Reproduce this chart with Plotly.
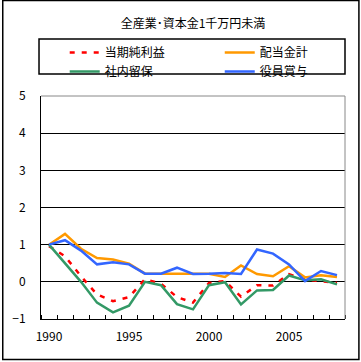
import plotly.graph_objects as go

years = list(range(1990, 2009))
net_income = [0.96, 0.69, 0.15, -0.34, -0.52, -0.41, 0.07, -0.05, -0.41, -0.56, -0.03, 0.02, -0.40, -0.09, -0.10, 0.21, 0.06, 0.02, -0.03]
dividends = [1.00, 1.29, 0.89, 0.64, 0.60, 0.49, 0.22, 0.22, 0.23, 0.22, 0.22, 0.13, 0.44, 0.21, 0.15, 0.42, 0.12, 0.18, 0.13]
retained = [1.00, 0.50, 0.00, -0.56, -0.82, -0.64, 0.00, -0.09, -0.60, -0.74, -0.09, -0.01, -0.61, -0.23, -0.22, 0.17, 0.04, 0.07, -0.07]
bonuses = [1.00, 1.12, 0.84, 0.47, 0.53, 0.47, 0.22, 0.22, 0.38, 0.21, 0.22, 0.24, 0.21, 0.87, 0.76, 0.47, 0.02, 0.29, 0.18]

names = ["当期純利益", "配当金計", "社内留保", "役員賞与"]
title = "全産業･資本金1千万円未満"
x_ticks = [1990, 1995, 2000, 2005]
y_ticks = [-1, 0, 1, 2, 3, 4, 5]

FONT = "Noto Sans CJK JP"
fig = go.Figure()
fig.add_trace(go.Scatter(x=years, y=net_income, name=names[0], mode="lines", legend="legend",
                         line=dict(color="#FF0000", width=2.5, dash="5px,7px")))
fig.add_trace(go.Scatter(x=years, y=dividends, name=names[1], mode="lines", legend="legend2",
                         line=dict(color="#FF9900", width=2.5)))
fig.add_trace(go.Scatter(x=years, y=retained, name=names[2], mode="lines", legend="legend",
                         line=dict(color="#339966", width=2.5)))
fig.add_trace(go.Scatter(x=years, y=bonuses, name=names[3], mode="lines", legend="legend2",
                         line=dict(color="#3366FF", width=2.5)))

leg_common = dict(orientation="v", yanchor="top", y=1.26, xanchor="left",
                  bgcolor="rgba(0,0,0,0)", borderwidth=0,
                  font=dict(size=12, family=FONT), tracegroupgap=0)

fig.update_layout(
    width=361, height=362,
    margin=dict(l=39, r=16, t=96, b=43),
    paper_bgcolor="white", plot_bgcolor="white",
    font=dict(family=FONT, size=12, color="black"),
    title=dict(text=title, x=0.5, xref="paper", xanchor="center",
               y=1 - 24 / 362, yref="container", yanchor="middle",
               font=dict(size=12, family=FONT)),
    showlegend=True,
    legend=dict(x=0.078, **leg_common),
    legend2=dict(x=0.588, **leg_common),
    xaxis=dict(range=[1989.5, 2008.5], tickmode="array", tickvals=x_ticks,
               ticks="", showgrid=False, zeroline=False,
               showline=True, linecolor="black", linewidth=1,
               ticklabelstandoff=7,
               tickfont=dict(size=12, family=FONT),
               minor=dict(ticks="inside", ticklen=4, tickcolor="black",
                          tick0=1989.5, dtick=1, showgrid=False)),
    yaxis=dict(range=[-1, 5], tickmode="array", tickvals=y_ticks,
               ticktext=["−1" if v == -1 else str(v) for v in y_ticks],
               showgrid=True, gridcolor="black", gridwidth=1,
               zeroline=True, zerolinecolor="black", zerolinewidth=1,
               showline=True, linecolor="black", linewidth=1,
               ticks="", ticklabelstandoff=12,
               tickfont=dict(size=12, family=FONT)),
    shapes=[
        dict(type="line", xref="paper", yref="paper", x0=0, x1=1, y0=1, y1=1,
             line=dict(color="#888888", width=1), layer="above"),
        dict(type="line", xref="paper", yref="paper", x0=1, x1=1, y0=0, y1=1,
             line=dict(color="#888888", width=1), layer="above"),
        dict(type="rect", xref="paper", yref="paper",
             x0=-2 / 306, x1=1.0, y0=(319 - 74) / 223, y1=(319 - 39) / 223,
             line=dict(color="black", width=1.5), fillcolor="rgba(0,0,0,0)"),
        dict(type="rect", xref="paper", yref="paper",
             x0=-38.5 / 306, x1=(359 - 39) / 306, y0=(319 - 359.5) / 223, y1=(319 - 0.5) / 223,
             line=dict(color="black", width=1.5), fillcolor="rgba(0,0,0,0)"),
    ],
)

fig.write_html("out.html", config={"displayModeBar": False},
               post_script="document.body.style.margin='0';document.body.style.padding='0';")
